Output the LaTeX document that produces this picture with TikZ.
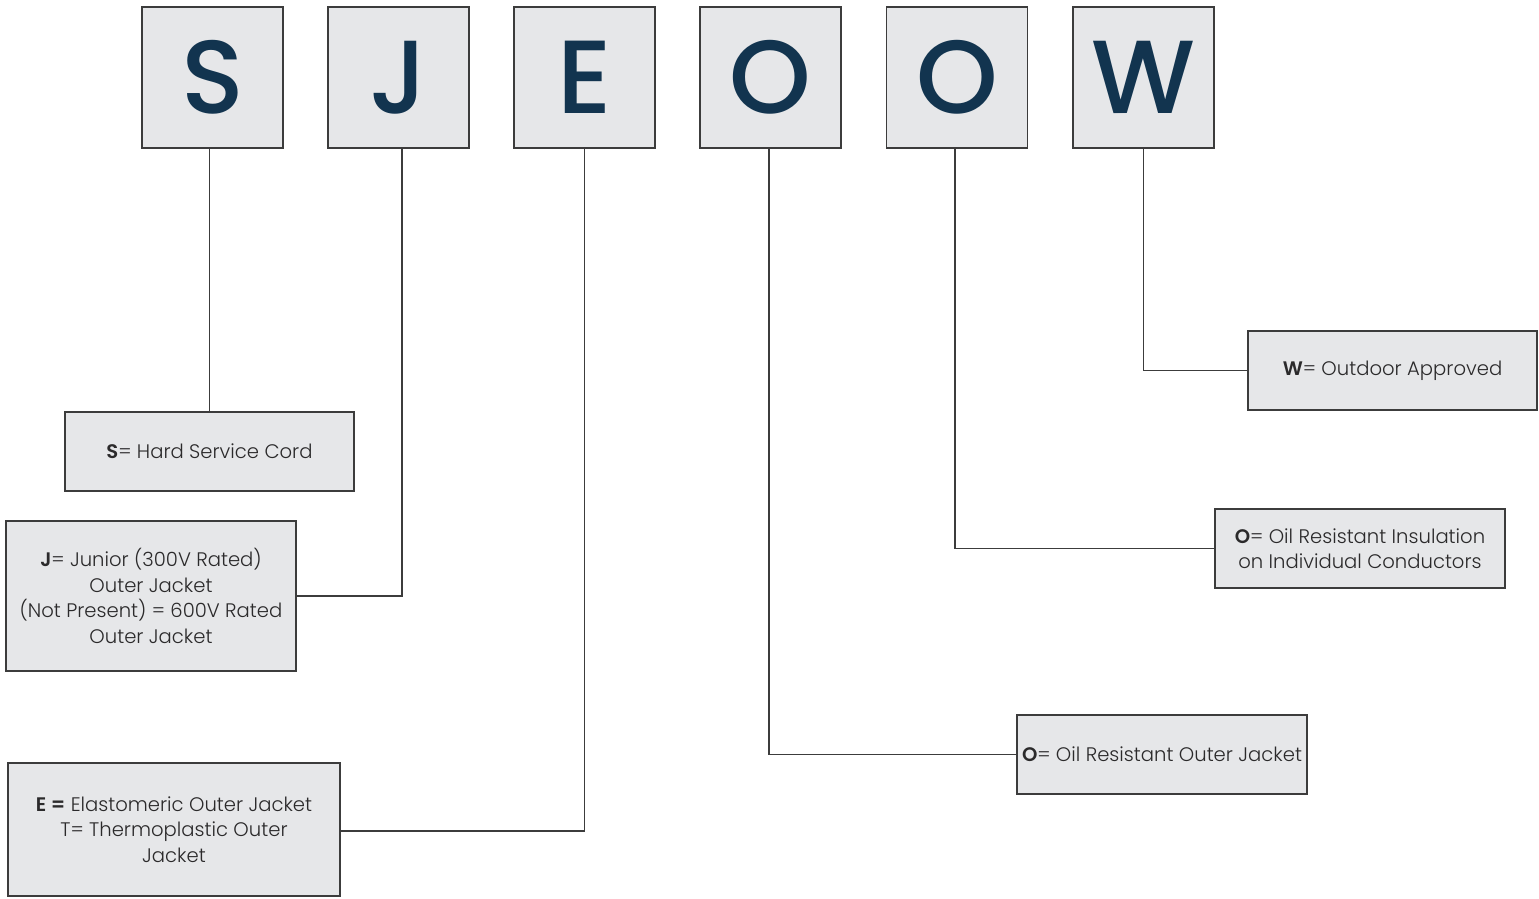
\documentclass[tikz,border=0pt]{standalone}
\usepackage{fontspec}
\setmainfont{Poppins}[UprightFont=* Light, BoldFont=* SemiBold]
\newfontfamily\bigletter{Poppins Medium}
\definecolor{boxfill}{HTML}{E6E7E9}
\definecolor{boxline}{HTML}{3C3C3C}
\definecolor{navy}{HTML}{12344F}
\definecolor{txt}{HTML}{2B2A2B}
\tikzset{
  letterbox/.style={draw=boxline, line width=1.3pt, fill=boxfill, minimum width=141pt, minimum height=141pt, inner sep=0pt, font=\bigletter\fontsize{104}{104}\selectfont, text=navy},
  descbox/.style={draw=boxline, line width=1.3pt, fill=boxfill, inner sep=0pt, align=center, text=txt, font=\fontsize{19.6}{25.5}\selectfont},
  conn/.style={draw=boxline, line width=1.1pt}
}
\begin{document}
\begin{tikzpicture}[x=1pt,y=-1pt]
\useasboundingbox (0,0) rectangle (1539,898);
% letter boxes
\node[letterbox] (s)  at (212.5,77.5) {S};
\node[letterbox] (j)  at (398.5,77.5) {J};
\node[letterbox] (e)  at (584.5,77.5) {E};
\node[letterbox] (o)  at (770.5,77.5) {O};
\node[letterbox] (oo) at (957,77.5) {O};
\node[letterbox] (w)  at (1143.5,77.5) {W};
% description boxes
\node[descbox, minimum width=289pt, minimum height=79pt] (sb) at (209.5,451.5) {\textbf{S}= Hard Service Cord};
\node[descbox, minimum width=290pt, minimum height=150pt] (jb) at (151,596) {\textbf{J}= Junior (300V Rated)\\Outer Jacket\\(Not Present) = 600V Rated\\Outer Jacket};
\node[descbox, minimum width=332pt, minimum height=133pt] (eb) at (174,829.5) {\textbf{E =} Elastomeric Outer Jacket\\T= Thermoplastic Outer\\Jacket};
\node[descbox, minimum width=290pt, minimum height=79pt] (ob) at (1162,754.5) {\textbf{O}= Oil Resistant Outer Jacket};
\node[descbox, minimum width=290pt, minimum height=79pt] (oob) at (1360,548.5) {\textbf{O}= Oil Resistant Insulation\\on Individual Conductors};
\node[descbox, minimum width=289pt, minimum height=79pt] (wb) at (1392.5,370.5) {\textbf{W}= Outdoor Approved};
% connectors
\draw[conn] (s.south -| sb.north) -- (sb.north);
\draw[conn] ([xshift=3.5pt]j.south) |- (jb.east);
\draw[conn] (e.south) |- ([yshift=-1.5pt]eb.east);
\draw[conn] ([xshift=-1.5pt]o.south) |- (ob.west);
\draw[conn] ([xshift=-2pt]oo.south) |- (oob.west);
\draw[conn] (w.south) |- (wb.west);
\end{tikzpicture}
\end{document}
